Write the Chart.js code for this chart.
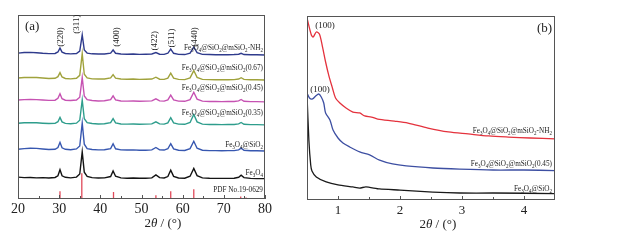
<!DOCTYPE html>
<html>
<head>
<meta charset="utf-8">
<script src="https://cdn.jsdelivr.net/npm/chart.js@4.4.1/dist/chart.umd.min.js"></script>
<style>
  body { margin: 0; background: #fff; }
  #wrap { position: relative; width: 626px; height: 241px; }
  #xrd { position: absolute; left: 0; top: 0; }
  #saxs { position: absolute; left: 300px; top: 0; }
</style>
</head>
<body>
<div id="wrap">
  <canvas id="xrd" width="300" height="241"></canvas>
  <canvas id="saxs" width="326" height="241"></canvas>
</div>
<script>
// ---- panel (a): wide-angle XRD, curves already stacked (arb. units) ----
const twoTheta = [20, 21.5, 23, 24.5, 26, 27.5, 29, 29.7, 30.2, 30.7, 31.5, 32.8, 34.2, 35.0, 35.6, 36.1, 36.8, 38, 39.5, 41, 42.5, 43.1, 43.7, 45, 46.5, 48, 49.5, 51, 52.5, 53.5, 54.4, 55.5, 56.4, 57.1, 57.8, 59, 60.5, 61.8, 62.7, 63.5, 64.8, 66.5, 68, 69.5, 71, 72.5, 73.6, 74.2, 74.9, 76.5, 78, 80];

const xrdFe3O4 = [11.9, 11.6, 11.7, 11.5, 11.6, 11.4, 11.7, 12.6, 15.9, 12.6, 11.8, 11.5, 11.9, 13.6, 25.6, 14.6, 12.3, 11.6, 11.4, 11.5, 12.2, 15.3, 12.4, 11.5, 11.3, 11.4, 11.3, 11.3, 11.5, 13.1, 11.6, 11.4, 12.2, 15.7, 12.3, 11.4, 11.3, 12.4, 16.6, 12.7, 11.5, 11.3, 11.2, 11.2, 11.2, 11.3, 11.8, 12.9, 11.6, 11.2, 11.1, 11.1];
const xrdSiO2 = [27.0, 27.4, 27.6, 27.5, 27.2, 26.9, 27.0, 28.0, 30.8, 27.8, 27.0, 26.8, 27.2, 28.8, 41.3, 29.8, 27.4, 26.9, 26.7, 26.8, 27.4, 30.0, 27.3, 26.7, 26.6, 26.7, 26.5, 26.5, 26.7, 28.0, 26.7, 26.6, 27.3, 30.1, 27.2, 26.5, 26.4, 27.4, 31.4, 27.6, 26.5, 26.3, 26.3, 26.2, 26.3, 26.3, 26.7, 27.6, 26.5, 26.2, 26.2, 26.1];
const xrdM035 = [41.2, 41.4, 41.5, 41.4, 41.2, 41.0, 41.1, 42.0, 44.3, 41.9, 41.1, 40.9, 41.2, 42.8, 53.8, 43.6, 41.5, 41.0, 40.8, 40.9, 41.5, 43.7, 41.4, 40.8, 40.7, 40.8, 40.6, 40.7, 40.8, 41.9, 40.8, 40.7, 41.4, 44.2, 41.4, 40.7, 40.6, 41.6, 46.0, 41.9, 40.7, 40.5, 40.5, 40.4, 40.5, 40.5, 40.8, 41.6, 40.6, 40.4, 40.4, 40.3];
const xrdM045 = [53.8, 54.0, 54.1, 54.0, 53.8, 53.6, 53.7, 54.7, 57.2, 54.5, 53.7, 53.5, 53.8, 55.3, 66.0, 56.0, 54.0, 53.5, 53.3, 53.4, 54.0, 56.1, 53.9, 53.3, 53.2, 53.3, 53.1, 53.2, 53.3, 54.4, 53.3, 53.2, 53.9, 56.5, 53.9, 53.2, 53.1, 54.0, 58.0, 54.3, 53.2, 53.0, 53.0, 52.9, 53.0, 53.0, 53.3, 54.1, 53.1, 52.9, 52.9, 52.8];
const xrdM067 = [65.8, 66.0, 66.1, 66.0, 65.8, 65.5, 65.6, 66.5, 68.7, 66.3, 65.5, 65.3, 65.6, 67.2, 79.0, 67.8, 65.8, 65.3, 65.2, 65.2, 65.8, 67.6, 65.7, 65.2, 65.1, 65.2, 65.0, 65.1, 65.2, 66.2, 65.1, 65.0, 65.7, 68.4, 65.7, 65.0, 64.9, 65.8, 69.8, 66.1, 65.0, 64.9, 64.8, 64.8, 64.8, 64.9, 65.2, 65.9, 65.0, 64.8, 64.8, 64.7];
const xrdNH2 = [79.3, 79.6, 79.7, 79.5, 79.2, 79.0, 79.1, 79.9, 82.0, 79.8, 79.1, 78.9, 79.1, 80.4, 89.2, 81.0, 79.3, 78.9, 78.8, 78.8, 79.3, 81.0, 79.2, 78.8, 78.7, 78.8, 78.6, 78.7, 78.8, 79.6, 78.7, 78.6, 79.2, 81.5, 79.2, 78.6, 78.5, 79.3, 82.6, 79.5, 78.6, 78.5, 78.4, 78.4, 78.4, 78.5, 78.7, 79.2, 78.5, 78.4, 78.4, 78.3];

// PDF No.19-0629 reference lines (relative intensity, %)
const pdfPeaks = [30.2, 35.5, 43.2, 53.5, 57.1, 62.7, 74.1, 75.4];
const pdfIntensity = [30, 100, 27, 15, 30, 38, 10, 6];

const xrdTicks = [20, 30, 40, 50, 60, 70, 80];
const millerLabels = ['(220)', '(311)', '(400)', '(422)', '(511)', '(440)'];

// ---- panel (b): small-angle XRD ----
const nh2Angle = [0.5, 0.57, 0.6, 0.65, 0.7, 0.75, 0.8, 0.85, 0.91, 0.96, 1.03, 1.13, 1.24, 1.35, 1.43, 1.54, 1.64, 1.91, 2.13, 2.45, 2.78, 3.1, 3.43, 3.75, 4.1, 4.5];
const nh2Int = [98.9, 89.7, 88.6, 91.3, 90.2, 83.2, 75.0, 67.9, 60.9, 55.4, 52.7, 50.0, 47.8, 47.3, 45.7, 45.1, 44.0, 42.9, 41.8, 39.1, 37.0, 35.9, 34.8, 34.2, 33.7, 33.2];
const m045Angle = [0.5, 0.54, 0.59, 0.64, 0.69, 0.73, 0.77, 0.8, 0.87, 0.92, 1.0, 1.08, 1.19, 1.35, 1.51, 1.67, 1.88, 2.1, 2.53, 2.96, 3.5, 4.0, 4.5];
const m045Int = [58.2, 55.4, 54.9, 56.5, 57.6, 56.0, 52.7, 47.3, 43.5, 38.0, 33.7, 31.0, 28.8, 26.1, 24.5, 21.7, 19.6, 18.5, 17.4, 16.8, 16.3, 16.3, 16.0];
const sio2Angle = [0.5, 0.53, 0.56, 0.58, 0.65, 0.81, 1.0, 1.24, 1.35, 1.45, 1.67, 2.0, 2.53, 2.96, 3.5, 4.5];
const sio2Int = [57.1, 32.6, 19.0, 15.8, 12.5, 9.8, 8.2, 7.1, 6.5, 7.1, 6.0, 5.4, 4.3, 3.8, 3.8, 3.5];

const saxsTicks = [1, 2, 3, 4];

const SERIF = '"Liberation Serif", "Times New Roman", serif';
Chart.defaults.font.family = SERIF;
Chart.defaults.color = '#222';

const pts = (xs, ys) => xs.map((v, i) => ({ x: v, y: ys[i] }));

// text with "_n" subscripts, right aligned at (x, y)
function drawRich(ctx, text, x, y, size, squeeze) {
  const parts = [];
  for (let i = 0; i < text.length; i++) {
    const sub = text[i] === '_';
    const ch = sub ? text[++i] : text[i];
    const last = parts[parts.length - 1];
    if (last && last.sub === sub) last.t += ch; else parts.push({ t: ch, sub });
  }
  const fontFor = p => (p.sub ? size * 0.7 : size) + 'px ' + SERIF;
  let w = 0;
  parts.forEach(p => { ctx.font = fontFor(p); p.w = ctx.measureText(p.t).width; w += p.w; });
  ctx.save();
  ctx.translate(x, y);
  ctx.scale(squeeze, 1);
  ctx.textBaseline = 'middle';
  ctx.textAlign = 'left';
  let cx = -w;
  parts.forEach(p => { ctx.font = fontFor(p); ctx.fillText(p.t, cx, p.sub ? size * 0.3 : 0); cx += p.w; });
  ctx.restore();
}

function drawAxisTitle(ctx, cx, cy, size) {
  const parts = [['2', ''], ['\u03b8', 'italic '], [' / (\u00b0)', '']];
  let w = 0;
  parts.forEach(p => { ctx.font = p[1] + size + 'px ' + SERIF; w += ctx.measureText(p[0]).width; });
  let x = cx - w / 2;
  ctx.textBaseline = 'middle';
  ctx.textAlign = 'left';
  parts.forEach(p => { ctx.font = p[1] + size + 'px ' + SERIF; ctx.fillText(p[0], x, cy); x += ctx.measureText(p[0]).width; });
}

const decor = {
  id: 'decor',
  afterDraw(chart, args, o) {
    const { ctx, chartArea: a, scales: { x, y } } = chart;
    ctx.save();
    ctx.strokeStyle = '#555';
    ctx.lineWidth = 1;
    ctx.strokeRect(a.left + 0.5, a.top + 0.5, a.right - a.left - 1, a.bottom - a.top - 1);
    ctx.beginPath();
    o.majors.forEach(v => { const px = Math.round(x.getPixelForValue(v)) + 0.5; ctx.moveTo(px, a.bottom); ctx.lineTo(px, a.bottom - 4); });
    o.minors.forEach(v => { const px = Math.round(x.getPixelForValue(v)) + 0.5; ctx.moveTo(px, a.bottom); ctx.lineTo(px, a.bottom - 3); });
    ctx.stroke();

    ctx.fillStyle = '#222';
    drawAxisTitle(ctx, x.getPixelForValue(o.titleAt), a.bottom + 25, 13);

    ctx.font = '13px ' + SERIF;
    ctx.textBaseline = 'middle';
    ctx.textAlign = 'left';
    ctx.fillText(o.tag[0], o.tag[1], o.tag[2]);

    o.curveLabels.forEach(l => drawRich(ctx, l[0], x.getPixelForValue(l[1]), y.getPixelForValue(l[2]), 9, 0.8));

    ctx.font = '9px ' + SERIF;
    ctx.textAlign = 'center';
    o.peakLabels.forEach(l => {
      ctx.save();
      ctx.translate(x.getPixelForValue(l[1]), y.getPixelForValue(l[2]));
      if (l[3]) ctx.rotate(-Math.PI / 2);
      ctx.fillText(l[0], 0, 0);
      ctx.restore();
    });
    ctx.restore();
  }
};

const lineSet = (label, data, color, width) => ({
  label, data, borderColor: color, borderWidth: width, pointRadius: 0, tension: 0, fill: false
});

new Chart(document.getElementById('xrd'), {
  type: 'line',
  data: {
    datasets: [
      lineSet('Fe3O4@SiO2@mSiO2-NH2', pts(twoTheta, xrdNH2), '#2f3b8c', 1.4),
      lineSet('Fe3O4@SiO2@mSiO2(0.67)', pts(twoTheta, xrdM067), '#a0a23c', 1.4),
      lineSet('Fe3O4@SiO2@mSiO2(0.45)', pts(twoTheta, xrdM045), '#c652b2', 1.4),
      lineSet('Fe3O4@SiO2@mSiO2(0.35)', pts(twoTheta, xrdM035), '#2e9d8c', 1.4),
      lineSet('Fe3O4@SiO2', pts(twoTheta, xrdSiO2), '#3757b0', 1.4),
      lineSet('Fe3O4', pts(twoTheta, xrdFe3O4), '#141414', 1.4),
      Object.assign(lineSet('PDF No.19-0629',
        pdfPeaks.flatMap((p, i) => [{ x: p, y: 0 }, { x: p, y: pdfIntensity[i] }, { x: p, y: null }]),
        '#e04a5a', 1.3), { yAxisID: 'yPdf', spanGaps: false })
    ]
  },
  options: {
    responsive: false,
    animation: false,
    devicePixelRatio: 1,
    layout: { padding: { left: 18, right: 35, top: 15, bottom: 0 } },
    plugins: {
      legend: { display: false },
      tooltip: { enabled: false },
      decor: {
        majors: xrdTicks,
        minors: [25, 35, 45, 55, 65, 75],
        titleAt: 55.2,
        tag: ['(a)', 25, 27],
        curveLabels: [
          ['Fe_3O_4@SiO_2@mSiO_2-NH_2', 79.5, 82.4],
          ['Fe_3O_4@SiO_2@mSiO_2(0.67)', 79.5, 71.5],
          ['Fe_3O_4@SiO_2@mSiO_2(0.45)', 79.5, 60.6],
          ['Fe_3O_4@SiO_2@mSiO_2(0.35)', 79.5, 46.9],
          ['Fe_3O_4@SiO_2', 79.5, 29.8],
          ['Fe_3O_4', 79.5, 14.3],
          ['PDF No.19-0629', 79.5, 5.2]
        ],
        peakLabels: [
          [millerLabels[0], 30.4, 88, true],
          [millerLabels[1], 34.3, 95, true],
          [millerLabels[2], 44.0, 88, true],
          [millerLabels[3], 53.3, 86, true],
          [millerLabels[4], 57.4, 87.5, true],
          [millerLabels[5], 62.8, 88, true]
        ]
      }
    },
    scales: {
      x: {
        type: 'linear', min: 20, max: 80,
        afterBuildTicks: s => { s.ticks = xrdTicks.map(v => ({ value: v })); },
        afterFit: s => { s.height = 42; },
        grid: { display: false, drawTicks: false },
        border: { display: false },
        ticks: { font: { size: 14 }, padding: 2, maxRotation: 0 }
      },
      y: { display: false, min: 0, max: 100 },
      yPdf: { display: false, min: 0, max: 714 }
    }
  },
  plugins: [decor]
});

new Chart(document.getElementById('saxs'), {
  type: 'line',
  data: {
    datasets: [
      Object.assign(lineSet('Fe3O4@SiO2@mSiO2-NH2', pts(nh2Angle, nh2Int), '#e4323d', 1.3), { tension: 0.3 }),
      Object.assign(lineSet('Fe3O4@SiO2@mSiO2(0.45)', pts(m045Angle, m045Int), '#3d4fa2', 1.3), { tension: 0.3 }),
      Object.assign(lineSet('Fe3O4@SiO2', pts(sio2Angle, sio2Int), '#1a1a1a', 1.3), { tension: 0.2 })
    ]
  },
  options: {
    responsive: false,
    animation: false,
    devicePixelRatio: 1,
    layout: { padding: { left: 7, right: 71, top: 16, bottom: 0 } },
    plugins: {
      legend: { display: false },
      tooltip: { enabled: false },
      decor: {
        majors: saxsTicks,
        minors: [1.5, 2.5, 3.5],
        titleAt: 2.61,
        tag: ['(b)', 237, 29],
        curveLabels: [
          ['Fe_3O_4@SiO_2@mSiO_2-NH_2', 4.45, 37.5],
          ['Fe_3O_4@SiO_2@mSiO_2(0.45)', 4.45, 19.8],
          ['Fe_3O_4@SiO_2', 4.45, 6.25]
        ],
        peakLabels: [
          ['(100)', 0.79, 94.6, false],
          ['(100)', 0.71, 59.8, false]
        ]
      }
    },
    scales: {
      x: {
        type: 'linear', min: 0.5, max: 4.5,
        afterBuildTicks: s => { s.ticks = saxsTicks.map(v => ({ value: v })); },
        afterFit: s => { s.height = 41; },
        grid: { display: false, drawTicks: false },
        border: { display: false },
        ticks: { font: { size: 13 }, padding: 3, maxRotation: 0 }
      },
      y: { display: false, min: 0, max: 100 }
    }
  },
  plugins: [decor]
});
</script>
</body>
</html>
